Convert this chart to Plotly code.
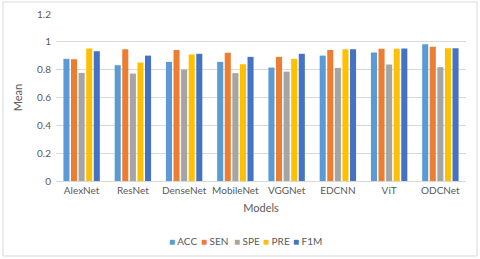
import plotly.graph_objects as go

models = ["AlexNet", "ResNet", "DenseNet", "MobileNet", "VGGNet", "EDCNN", "ViT", "ODCNet"]
acc = [0.878, 0.832, 0.856, 0.856, 0.815, 0.901, 0.923, 0.983]
sen = [0.875, 0.947, 0.942, 0.921, 0.892, 0.942, 0.950, 0.964]
spe = [0.777, 0.772, 0.801, 0.775, 0.786, 0.813, 0.837, 0.818]
pre = [0.952, 0.851, 0.909, 0.839, 0.878, 0.947, 0.950, 0.954]
f1m = [0.933, 0.901, 0.914, 0.892, 0.914, 0.947, 0.952, 0.954]
y_ticks = [0, 0.2, 0.4, 0.6, 0.8, 1, 1.2]
y_tick_labels = ["0", "0.2", "0.4", "0.6", "0.8", "1", "1.2"]

series = [("ACC", acc, "#5B9BD5"), ("SEN", sen, "#ED7D31"), ("SPE", spe, "#A5A5A5"),
          ("PRE", pre, "#FFC000"), ("F1M", f1m, "#4472C4")]

# plot area in pixels (layout only)
L, R, T, B = 56, 466, 14, 181
W, H = R - L, B - T

fig = go.Figure()
for name, vals, col in series:
    fig.add_trace(go.Bar(x=models, y=vals, name=name, showlegend=False,
                         marker=dict(color=col, line=dict(width=0))))

# compact Office-style legend drawn as text annotations
legend_x_px = [167, 199, 232, 261, 291]
annotations = []
for (name, _, col), px in zip(series, legend_x_px):
    annotations.append(dict(
        xref="paper", yref="paper", x=(px - L) / W, y=(B - 241) / H,
        xanchor="left", yanchor="middle", showarrow=False,
        text=f"<span style='color:{col}'>■</span> {name}",
        font=dict(size=10, color="#595959")))

font = "Lato, Open Sans, sans-serif"
fig.update_layout(
    width=480, height=259,
    margin=dict(l=L, r=480 - R, t=T, b=259 - B),
    paper_bgcolor="white", plot_bgcolor="white",
    barmode="group", bargap=0.26, bargroupgap=0.2,
    font=dict(family=font, size=10, color="#595959"),
    showlegend=False,
    annotations=annotations,
    xaxis=dict(showgrid=False, showline=True, linecolor="#D9D9D9", linewidth=1,
               ticks="", automargin=False, tickangle=0, tickfont=dict(size=10, color="#595959"),
               title=dict(text="Models", font=dict(size=11, color="#595959"), standoff=9)),
    yaxis=dict(range=[0, 1.2], tickvals=y_ticks, ticktext=y_tick_labels,
               showgrid=True, gridcolor="#D9D9D9", gridwidth=1, zeroline=False,
               ticks="", automargin=False, tickfont=dict(size=10, color="#595959"),
               ticklabelstandoff=4,
               title=dict(text="Mean", font=dict(size=11, color="#595959"), standoff=12)),
    shapes=[dict(type="rect", xref="paper", yref="paper",
                 x0=(3 - L) / W, x1=(477 - L) / W,
                 y0=(B - 256) / H, y1=(B - 2) / H,
                 line=dict(color="#D9D9D9", width=1), fillcolor="rgba(0,0,0,0)", layer="below")],
)
fig.write_html("out.html", config={"displayModeBar": False},
               post_script="document.body.style.margin='0';document.body.style.overflow='hidden';")
